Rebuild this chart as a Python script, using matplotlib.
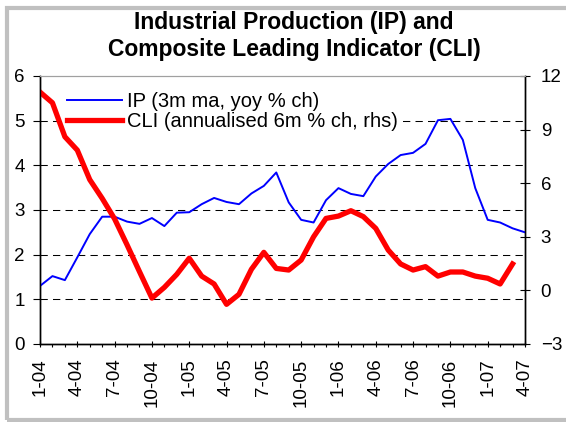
import matplotlib
matplotlib.use("Agg")
import matplotlib.pyplot as plt
from matplotlib.patches import Rectangle

plt.rcParams['font.family'] = ['Liberation Sans', 'DejaVu Sans']

# monthly data, Jan 2004 .. Apr 2007
months = list(range(40))
tick_pos = list(range(0, 40, 3))
tick_labels = ['1-04', '4-04', '7-04', '10-04', '1-05', '4-05', '7-05',
               '10-05', '1-06', '4-06', '7-06', '10-06', '1-07', '4-07']

# IP, 3m ma, yoy % ch (left axis)
ip = [1.30, 1.52, 1.43, 1.94, 2.46, 2.85, 2.85, 2.74, 2.69, 2.82,
      2.64, 2.94, 2.95, 3.13, 3.27, 3.18, 3.13, 3.37, 3.54, 3.84,
      3.17, 2.78, 2.72, 3.22, 3.49, 3.36, 3.31, 3.75, 4.03, 4.23,
      4.28, 4.48, 5.01, 5.04, 4.57, 3.49, 2.78, 2.72, 2.59, 2.50]

# CLI, annualised 6m % ch (right axis), ends Mar 2007
cli = [11.1, 10.5, 8.6, 7.85, 6.2, 5.15, 4.0, 2.55, 1.05, -0.43,
       0.17, 0.9, 1.8, 0.8, 0.36, -0.78, -0.22, 1.18, 2.13, 1.23,
       1.14, 1.7, 3.0, 4.03, 4.16, 4.46, 4.13, 3.47, 2.26, 1.48,
       1.14, 1.33, 0.8, 1.03, 1.03, 0.8, 0.68, 0.36, 1.48]

W, H = 566, 422
fig = plt.figure(figsize=(W / 100, H / 100), dpi=100)
ax = fig.add_axes([40 / W, 1 - 344 / H, 485 / W, 268 / H])
ax2 = ax.twinx()

# outer grey frame
fig.patches.append(Rectangle((7 / W, 1 - 420 / H), 570 / W, 412 / H,
                             transform=fig.transFigure, fill=False,
                             edgecolor='#c0c0c0', lw=3, zorder=0))

ax.set_xlim(0, 39)
ax.set_ylim(0, 6)
ax2.set_ylim(-3, 12)
ax.set_yticks(range(0, 7))
ax2.set_yticks(range(-3, 13, 3))

for v in ax.get_yticks()[1:-1]:
    ax.axhline(v, color='black', lw=0.75, dashes=(7, 5), zorder=1)

l1, = ax.plot(months, ip, color='#0000ff', lw=1.4, zorder=3,
              label='IP (3m ma, yoy % ch)')
l2, = ax2.plot(months[:len(cli)], cli, color='#ff0000', lw=3.8,
               solid_joinstyle='round', label='CLI (annualised 6m % ch, rhs)')

ax.set_xticks(tick_pos)
ax.set_xticklabels(tick_labels, rotation=90)
ax.set_xticks(months, minor=True)
ax.tick_params(axis='x', which='major', direction='inout', length=5,
               width=0.8, labelsize=13.5, pad=8)
ax.tick_params(axis='x', which='minor', direction='out', length=2.5, width=0.8)
ax.tick_params(axis='y', direction='out', length=5, width=0.8,
               labelsize=13.5, pad=6)
ax2.tick_params(axis='y', direction='inout', length=6.5, width=0.8,
                labelsize=13.5, pad=8)

for a in (ax, ax2):
    a.spines['top'].set_color('#a0a0a0')
    a.spines['left'].set_linewidth(1)
    a.spines['right'].set_linewidth(1)
    a.spines['bottom'].set_linewidth(1)

# legend on the host axes: its white box hides the grid, the red line stays on top
leg = ax.legend(handles=[l1, l2], loc='upper left',
                bbox_to_anchor=(64 / W, 1 - 89 / H),
                bbox_transform=fig.transFigure, fontsize=14.5,
                frameon=True, fancybox=False, framealpha=1,
                edgecolor='none', borderpad=0.15, borderaxespad=0,
                handlelength=2.75, handletextpad=0.25, labelspacing=0.05)
leg.set_zorder(5)

fig.text(294 / W, 1 - 36 / H,
         'Industrial Production (IP) and\nComposite Leading Indicator (CLI)',
         ha='center', va='center', fontsize=16.5, fontweight='bold',
         linespacing=1.2)

fig.savefig('out.png', dpi=100)
